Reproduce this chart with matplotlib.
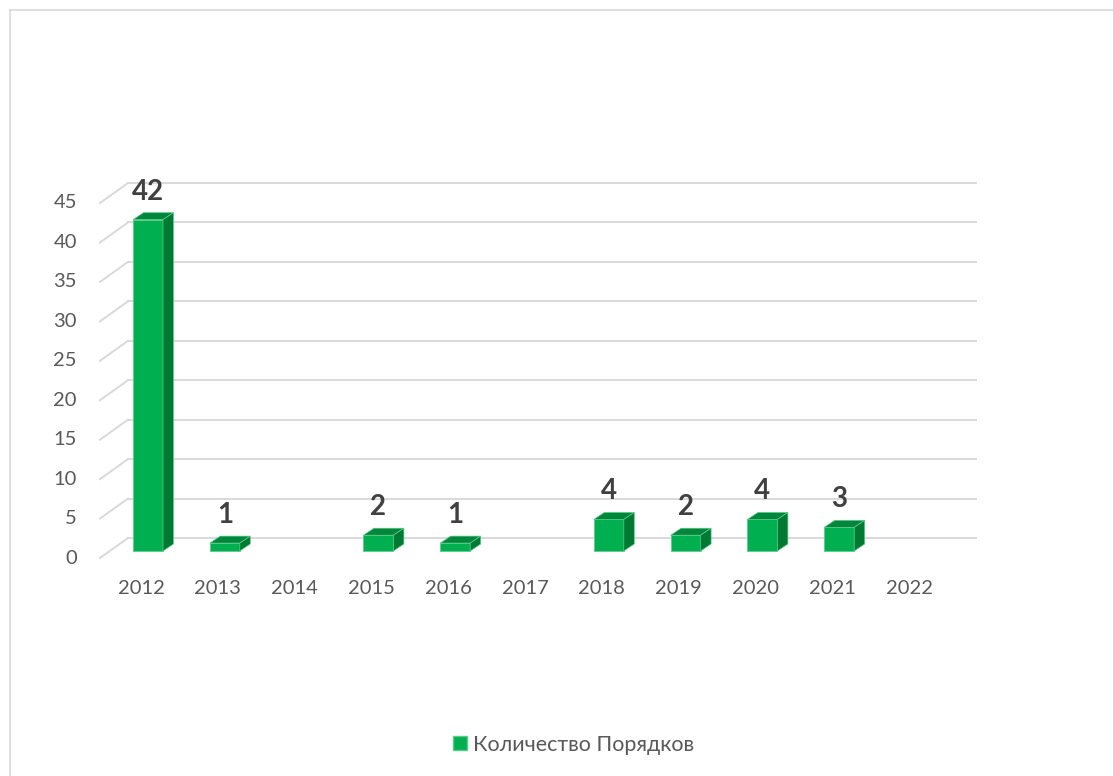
import matplotlib
matplotlib.use("Agg")
import matplotlib.pyplot as plt
from matplotlib.patches import Polygon, Rectangle
from matplotlib.lines import Line2D
import numpy as np

years = ["2012", "2013", "2014", "2015", "2016", "2017", "2018", "2019", "2020", "2021", "2022"]
counts = [42, 1, None, 2, 1, None, 4, 2, 4, 3, None]
yticks = [0, 5, 10, 15, 20, 25, 30, 35, 40, 45]
series_name = "Количество Порядков"

W, H, DPI = 1113, 776, 100
fig = plt.figure(figsize=(W / DPI, H / DPI), dpi=DPI)

# front plane of the plot area (in pixels)
L_px, R_px = 100, 948
top_px, bot_px = 203, 558
cat0_px, step_px = 141, 76.8
ax = fig.add_axes([L_px / W, 1 - bot_px / H, (R_px - L_px) / W, (bot_px - top_px) / H])
xmin = -(cat0_px - L_px) / step_px
xmax = (R_px - cat0_px) / step_px
ax.set_xlim(xmin, xmax)
ax.set_ylim(0, 45)
for s in ax.spines.values():
    s.set_visible(False)
ax.set_xticks([])
ax.set_yticks([])
ax.patch.set_alpha(0)

pxx = 1 / step_px                   # data units per pixel (x)
pxy = 45 / (bot_px - top_px)        # data units per pixel (y)

# back wall depth
dep_x, dep_y = 28 * pxx, 20 * pxy
grid_c = "#D9D9D9"
for t in yticks:
    ax.plot([xmin, xmin + dep_x], [t, t + dep_y], color=grid_c, lw=1.4, clip_on=False, zorder=1)
    ax.plot([xmin + dep_x, xmax + dep_x], [t + dep_y, t + dep_y], color=grid_c, lw=1.4,
            clip_on=False, zorder=1)
    ax.text(xmin - 23 * pxx, t, str(t), ha="right", va="center", fontsize=14.5,
            color="#595959", family=["Lato", "DejaVu Sans"])

for i, y in enumerate(years):
    ax.text(i, -31 * pxy, y, ha="center", va="center", fontsize=14.5,
            color="#595959", family=["Lato", "DejaVu Sans"])

# 3D-looking bars
off_x, off_y = 7 * pxx, 7 * pxy      # bar front face offset into depth
bd_x, bd_y = 10.5 * pxx, 7 * pxy     # bar depth
bw = 30 * pxx
front_c, top_c, side_c = "#00B050", "#00873C", "#007A33"
edge_c = "#5ECB8A"
for i, v in enumerate(counts):
    if v is None:
        continue
    x0 = i + off_x - bw / 2
    x1 = x0 + bw
    y0 = off_y
    y1 = v + off_y
    ax.add_patch(Rectangle((x0, y0), bw, v, facecolor=front_c, edgecolor=edge_c, lw=0.6,
                           clip_on=False, zorder=3))
    ax.add_patch(Polygon([(x0, y1), (x1, y1), (x1 + bd_x, y1 + bd_y), (x0 + bd_x, y1 + bd_y)],
                         closed=True, facecolor=top_c, edgecolor=edge_c, lw=0.5,
                         clip_on=False, zorder=3))
    ax.add_patch(Polygon([(x1, y0), (x1 + bd_x, y0 + bd_y), (x1 + bd_x, y1 + bd_y), (x1, y1)],
                         closed=True, facecolor=side_c, edgecolor=edge_c, lw=0.5,
                         clip_on=False, zorder=3))
    ax.text(i + off_x, y1 + 20 * pxy, str(v), ha="center", va="baseline", fontsize=20,
            fontweight="bold", color="#404040", family=["Lato", "DejaVu Sans"], zorder=4)

# legend
handle = Line2D([], [], marker="s", linestyle="none", markersize=10.5,
                markerfacecolor=front_c, markeredgecolor=edge_c)
fig.legend([handle], [series_name], loc="center", bbox_to_anchor=(572 / W, 1 - 745 / H),
           frameon=False, handletextpad=0.1, handlelength=1.0,
           prop={"family": ["Lato", "DejaVu Sans"], "size": 15.5}, labelcolor="#595959")

# chart border (left and top)
fig.add_artist(Line2D([10 / W, 10 / W], [0, 1 - 10 / H], color="#D9D9D9", lw=1.2,
                      transform=fig.transFigure))
fig.add_artist(Line2D([10 / W, 1], [1 - 10 / H, 1 - 10 / H], color="#D9D9D9", lw=1.2,
                      transform=fig.transFigure))

fig.savefig("out.png", dpi=DPI)
